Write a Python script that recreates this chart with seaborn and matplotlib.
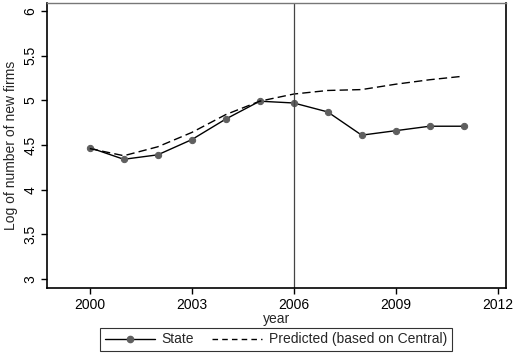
import pandas as pd
import matplotlib.pyplot as plt
import seaborn as sns
from matplotlib.lines import Line2D

sns.set_theme(style="white")
plt.rcParams['font.family'] = ['Liberation Sans', 'DejaVu Sans']
plt.rcParams['font.size'] = 10

years = [2000, 2001, 2002, 2003, 2004, 2005, 2006, 2007, 2008, 2009, 2010, 2011]
state = [4.47, 4.34, 4.39, 4.56, 4.79, 4.99, 4.97, 4.87, 4.61, 4.66, 4.71, 4.71]
predicted = [4.46, 4.38, 4.48, 4.64, 4.84, 4.99, 5.07, 5.11, 5.12, 5.18, 5.23, 5.27]

df = pd.DataFrame({"year": years, "state": state, "predicted": predicted})

fig = plt.figure(figsize=(5.14, 3.6), dpi=100)
ax = fig.add_axes([0.0914, 0.2, 0.8926, 0.792])

sns.lineplot(data=df, x="year", y="state", ax=ax, color="black", linewidth=1,
             marker="o", markersize=4.5, markerfacecolor="#5f5f5f",
             markeredgecolor="#5f5f5f")
sns.lineplot(data=df, x="year", y="predicted", ax=ax, color="black",
             linewidth=1, linestyle=(0, (6, 3)))
ax.axvline(2006, color="#444444", linewidth=0.9)

ax.set_xlim(1998.74, 2012.24)
ax.set_ylim(2.9, 6.09)
ax.set_xticks([2000, 2003, 2006, 2009, 2012])
ax.set_yticks([3, 3.5, 4, 4.5, 5, 5.5, 6])
ax.set_yticklabels(["3", "3.5", "4", "4.5", "5", "5.5", "6"], rotation=90, va="center")
ax.tick_params(axis="both", direction="out", length=4, width=1, color="black",
               labelsize=10, labelcolor="black", bottom=True, left=True, pad=3)
ax.set_xlabel("year", fontsize=10, labelpad=0)
ax.set_ylabel("Log of number of new firms", fontsize=10, labelpad=4)

for s in ["left", "bottom", "right"]:
    ax.spines[s].set_color("black")
    ax.spines[s].set_linewidth(1.2)
ax.spines["top"].set_color("#777777")
ax.spines["top"].set_linewidth(1)

handles = [
    Line2D([], [], color="black", linewidth=1, marker="o", markersize=4.5,
           markerfacecolor="#5f5f5f", markeredgecolor="#5f5f5f"),
    Line2D([], [], color="black", linewidth=1, linestyle=(0, (4, 3))),
]
leg = fig.legend(handles, ["State", "Predicted (based on Central)"], ncol=2,
                 loc="lower center", bbox_to_anchor=(0.537, 0.005),
                 frameon=True, fancybox=False, edgecolor="black",
                 handlelength=3.6, handletextpad=0.5, columnspacing=1.3,
                 fontsize=10, borderpad=0.35)
leg.get_frame().set_linewidth(0.8)

fig.savefig("out.png", dpi=100)
